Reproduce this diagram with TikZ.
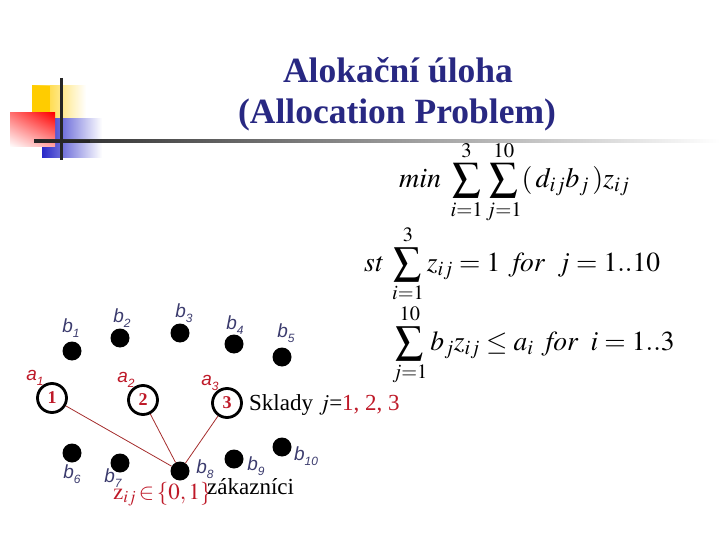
\documentclass[tikz,border=0pt]{standalone}
\usepackage{mathptmx}
\usepackage[no-math]{fontspec}
\setmainfont{Liberation Serif}
\newfontfamily\lsans{Liberation Sans}
\usetikzlibrary{shadings}
\definecolor{titleblue}{RGB}{40,40,130}
\definecolor{lblue}{RGB}{60,60,110}
\definecolor{dred}{RGB}{190,25,40}
\definecolor{lred}{RGB}{165,45,45}
\definecolor{ylw}{RGB}{255,204,0}
\definecolor{blu}{RGB}{40,40,200}
\newcommand{\blab}[2]{{\lsans\itshape #1\raisebox{-0.45ex}{\fontsize{12}{12}\selectfont #2}}}
\tikzset{
  dot/.style={circle,fill=black,minimum size=19,inner sep=0},
  ring/.style={circle,draw=black,line width=2.8,minimum size=29,inner sep=0,text=dred,font=\fontsize{18}{18}\selectfont\bfseries},
  blabel/.style={text=lblue,inner sep=0,font=\fontsize{19}{19}\selectfont},
  alabel/.style={text=dred,inner sep=0,font=\fontsize{19}{19}\selectfont},
  ttl/.style={text=titleblue,inner sep=0,anchor=base,font=\fontsize{35.5}{40}\selectfont\bfseries},
  frm/.style={inner sep=0,anchor=west,font=\fontsize{27.5}{32}\selectfont},
  link/.style={draw=lred,line width=0.8}
}
\begin{document}
\begin{tikzpicture}[x=1pt,y=-1pt]
\useasboundingbox (0,0) rectangle (720,540);
% decoration
\shade[left color=ylw,right color=white] (32,86) rectangle (86,119);
\fill[ylw] (32,86) rectangle (50,119);
\shade[left color=blu,right color=white] (42,119) rectangle (102,158);
\shade[upper right=red,upper left=red!55!white,lower right=red!35!white,lower left=white] (10,113) rectangle (55,147);
\shade[left color=black!85,right color=white] (34,139.8) rectangle (720,142.6);
\fill[black!85] (34,139.8) rectangle (90,142.6);
\draw[line width=3,black!85] (61,78) -- (61,160);
% title
\node[ttl] (t1) at (398,83) {Alokační úloha};
\node[ttl] (t2) at (397,124) {(Allocation Problem)};
% formulas
\node[frm,font=\fontsize{28}{32}\selectfont] (f1) at (399,182) {$\displaystyle \mathit{min}\;\sum_{i=1}^{3}\sum_{j=1}^{10}(\,d_{ij}b_{j}\,)z_{ij}$};
\node[frm] (f2) at (364,264) {$\displaystyle \mathit{st}\;\sum_{i=1}^{3}z_{ij}=1\;\;\mathit{for}\;\;j=1..10$};
\node[frm] (f3) at (392,345) {$\displaystyle \sum_{j=1}^{10}b_{j}z_{ij}\le a_{i}\;\;\mathit{for}\;\;i=1..3$};
% customers
\node[dot] (b1) at (72,351) {};
\node[dot] (b2) at (120,338) {};
\node[dot] (b3) at (180,333) {};
\node[dot] (b4) at (234,344) {};
\node[dot] (b5) at (282,357) {};
\node[dot] (b6) at (72,453) {};
\node[dot] (b7) at (120,463) {};
\node[dot] (b8) at (180,471) {};
\node[dot] (b9) at (234,459) {};
\node[dot] (b10) at (282,447) {};
\node[blabel] (lb1) at (71,328) {\blab{b}{1}};
\node[blabel] (lb2) at (122,318) {\blab{b}{2}};
\node[blabel] (lb3) at (184,313) {\blab{b}{3}};
\node[blabel] (lb4) at (235,325) {\blab{b}{4}};
\node[blabel] (lb5) at (286,333) {\blab{b}{5}};
\node[blabel] (lb6) at (72,474) {\blab{b}{6}};
\node[blabel] (lb7) at (113,478) {\blab{b}{7}};
\node[blabel] (lb8) at (205,469) {\blab{b}{8}};
\node[blabel] (lb9) at (256,466) {\blab{b}{9}};
\node[blabel] (lb10) at (306,456) {\blab{b}{10}};
% warehouses
\node[ring] (a1) at (52,398) {1};
\node[ring] (a2) at (143,400) {2};
\node[ring] (a3) at (227,403) {3};
\node[alabel] (la1) at (35,378) {\blab{a}{1}};
\node[alabel] (la2) at (126,380) {\blab{a}{2}};
\node[alabel] (la3) at (210,383) {\blab{a}{3}};
\draw[link] (a1) -- (b8);
\draw[link] (a2) -- (b8);
\draw[link] (a3) -- (b8);
% texts
\node[inner sep=0,anchor=base west,font=\fontsize{23}{23}\selectfont] (sk) at (249,410) {Sklady $j$=\textcolor{dred}{1, 2, 3}};
\node[inner sep=0,anchor=base west,text=dred,font=\fontsize{23}{23}\selectfont] (zz) at (113,499) {$\mathrm{z}_{ij}\!\in\!\{0,1\}$};
\node[inner sep=0,anchor=base west,font=\fontsize{23}{23}\selectfont] (zk) at (207,494) {zákazníci};
\end{tikzpicture}
\end{document}
